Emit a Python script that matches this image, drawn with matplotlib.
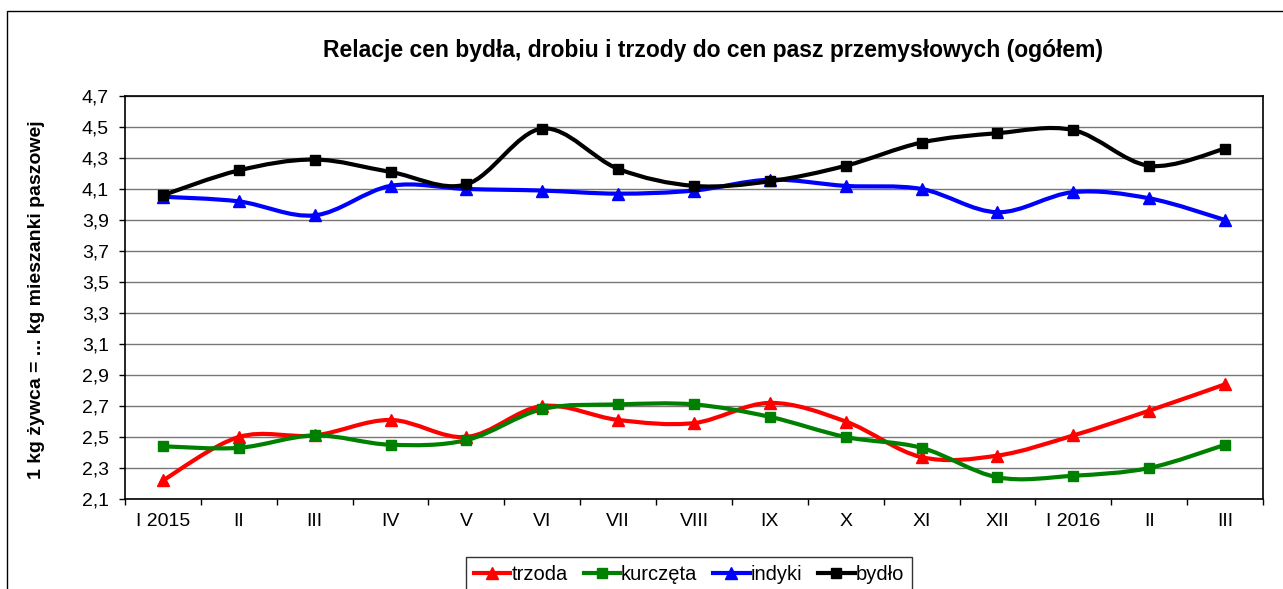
import matplotlib
matplotlib.use("Agg")
import matplotlib.pyplot as plt
from matplotlib.path import Path
from matplotlib.patches import PathPatch, Rectangle
from matplotlib.lines import Line2D

plt.rcParams['font.family'] = ['Liberation Sans', 'DejaVu Sans']

months = ["I 2015", "II", "III", "IV", "V", "VI", "VII", "VIII",
          "IX", "X", "XI", "XII", "I 2016", "II", "III"]

trzoda = [2.22, 2.50, 2.51, 2.61, 2.50, 2.70, 2.61, 2.59,
          2.72, 2.60, 2.37, 2.38, 2.51, 2.67, 2.84]
kurczeta = [2.44, 2.43, 2.51, 2.45, 2.48, 2.68, 2.71, 2.71,
            2.63, 2.50, 2.43, 2.24, 2.25, 2.30, 2.45]
indyki = [4.05, 4.02, 3.93, 4.12, 4.10, 4.09, 4.07, 4.09,
          4.16, 4.12, 4.10, 3.95, 4.08, 4.04, 3.90]
bydlo = [4.06, 4.22, 4.29, 4.21, 4.13, 4.49, 4.23, 4.12,
         4.15, 4.25, 4.40, 4.46, 4.48, 4.25, 4.36]

series = [
    ("trzoda", trzoda, "#ff0000", "^", 8.5),
    ("kurczęta", kurczeta, "#008000", "s", 7.5),
    ("indyki", indyki, "#0000ff", "^", 8.5),
    ("bydło", bydlo, "#000000", "s", 7.5),
]

yticks = [2.1 + 0.2 * i for i in range(14)]


def smooth_path(xs, ys):
    # Excel-style smoothed line: cubic Bezier through every point
    pts = list(zip(xs, ys))
    n = len(pts)
    verts = [pts[0]]
    codes = [Path.MOVETO]
    for i in range(n - 1):
        p0 = pts[i - 1] if i > 0 else pts[i]
        p1 = pts[i]
        p2 = pts[i + 1]
        p3 = pts[i + 2] if i + 2 < n else pts[i + 1]
        c1 = (p1[0] + (p2[0] - p0[0]) / 6, p1[1] + (p2[1] - p0[1]) / 6)
        c2 = (p2[0] - (p3[0] - p1[0]) / 6, p2[1] - (p3[1] - p1[1]) / 6)
        verts += [c1, c2, p2]
        codes += [Path.CURVE4] * 3
    return Path(verts, codes)


fig = plt.figure(figsize=(12.83, 5.89), dpi=100)
fig.patches.append(Rectangle((7 / 1283, -0.2), 1.2, 1.2 - 10.5 / 589,
                             transform=fig.transFigure, fill=False,
                             edgecolor="#000000", linewidth=1.0))

ax = fig.add_axes([125 / 1283, 1 - 499 / 589, 1138 / 1283, 403 / 589])

xs = list(range(len(months)))
handles = []
for name, vals, col, mk, ms in series:
    ax.add_patch(PathPatch(smooth_path(xs, vals), facecolor="none",
                           edgecolor=col, linewidth=3.0, capstyle="round",
                           joinstyle="round", zorder=3))
    ax.plot(xs, vals, linestyle="none", marker=mk, markersize=ms,
            color=col, zorder=4)
    handles.append(Line2D([], [], color=col, linewidth=3.0, marker=mk,
                          markersize=ms))

ax.set_xlim(-0.5, len(months) - 0.5)
ax.set_ylim(2.1, 4.7)
ax.set_yticks(yticks)
ax.set_yticklabels([f"{v:.1f}".replace(".", ",") for v in yticks])
ax.yaxis.grid(True, color="#777777", linewidth=1.0)
ax.set_axisbelow(True)

ax.set_xticks(xs)
ax.set_xticklabels(months)
ax.set_xticks([i - 0.5 for i in range(len(months) + 1)], minor=True)
ax.tick_params(axis="x", which="major", length=0, pad=10, labelsize=14)
ax.tick_params(axis="x", which="minor", length=4.5, width=1, direction="out")
ax.tick_params(axis="y", length=4.5, width=1, direction="out", labelsize=14, pad=7)

for s in ax.spines.values():
    s.set_color("#000000")
    s.set_linewidth(1.2)

fig.text(713 / 1283, 1 - 57.5 / 589,
         "Relacje cen bydła, drobiu i trzody do cen pasz przemysłowych (ogółem)",
         ha="center", va="baseline", fontsize=16.5, fontweight="bold")
fig.text(37 / 1283, 1 - 300 / 589, "1 kg żywca = ... kg mieszanki paszowej",
         ha="center", va="center", rotation=90, fontsize=14, fontweight="bold")

leg = fig.legend(handles, [s[0] for s in series], loc="upper center",
                 bbox_to_anchor=(689 / 1283, 1 - 557 / 589), ncol=4,
                 fontsize=14.5, frameon=True, fancybox=False, edgecolor="#000000",
                 handlelength=1.8, handletextpad=0.05, columnspacing=0.8,
                 borderpad=0.4, borderaxespad=0)
leg.get_frame().set_linewidth(1.0)

fig.savefig("out.png", dpi=100)
